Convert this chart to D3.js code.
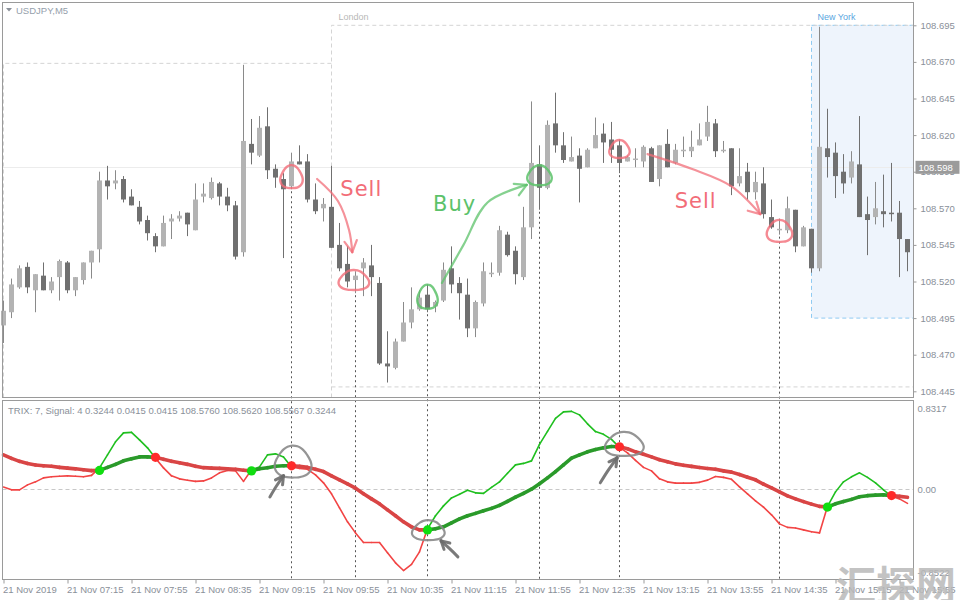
<!DOCTYPE html>
<html><head><meta charset="utf-8">
<script src="https://cdn.jsdelivr.net/npm/d3@7"></script>
<style>body{margin:0;background:#fff}svg{display:block}</style>
</head><body>
<svg id="c" width="960" height="600"></svg>
<script>
// ---------- DATA ----------
const open=[108.490,108.499,108.516,108.530,108.514,108.524,108.514,108.523,108.533,108.514,
108.521,108.533,108.542,108.589,108.587,108.590,108.578,108.571,108.562,108.551,
108.544,108.561,108.563,108.567,108.555,108.578,108.577,108.587,108.578,108.572,
108.540,108.614,108.606,108.626,108.597,108.590,108.585,108.602,108.602,108.576,
108.570,108.571,108.545,108.532,108.521,108.529,108.531,108.519,108.464,108.461,
108.479,108.492,108.501,108.511,108.503,108.507,108.529,108.519,108.511,108.488,
108.505,108.525,108.526,108.552,108.541,108.523,108.557,108.600,108.584,108.628,
108.613,108.602,108.606,108.598,108.611,108.621,108.617,108.613,108.602,108.603,
108.602,108.611,108.590,108.614,108.601,108.609,108.609,108.613,108.619,108.628,
108.609,108.611,108.587,108.595,108.581,108.587,108.564,108.555,108.555,108.569,
108.544,108.556,108.529,108.611,108.608,108.595,108.591,108.600,108.566,108.564,
108.568,108.567,108.567,108.549];
const high=[108.507,108.522,108.531,108.533,108.525,108.533,108.523,108.535,108.534,108.523,
108.533,108.541,108.595,108.599,108.596,108.592,108.583,108.575,108.565,108.553,
108.565,108.566,108.568,108.567,108.587,108.587,108.591,108.588,108.584,108.575,
108.668,108.631,108.633,108.639,108.600,108.594,108.608,108.613,108.607,108.587,
108.577,108.599,108.560,108.544,108.527,108.536,108.545,108.523,108.486,108.481,
108.506,108.516,108.514,108.518,108.507,108.533,108.544,108.523,108.522,108.507,
108.533,108.533,108.558,108.554,108.544,108.571,108.643,108.613,108.630,108.649,
108.622,108.619,108.611,108.611,108.632,108.628,108.629,108.617,108.606,108.611,
108.613,108.612,108.613,108.624,108.614,108.619,108.623,108.628,108.640,108.631,
108.616,108.611,108.611,108.601,108.595,108.598,108.576,108.563,108.578,108.569,
108.558,108.556,108.694,108.638,108.615,108.607,108.609,108.633,108.578,108.588,
108.593,108.601,108.575,108.549];
const low=[108.478,108.495,108.515,108.512,108.499,108.514,108.512,108.507,108.512,108.510,
108.518,108.522,108.533,108.576,108.583,108.574,108.572,108.559,108.548,108.540,
108.544,108.549,108.561,108.551,108.555,108.574,108.576,108.572,108.568,108.535,
108.537,108.600,108.605,108.590,108.584,108.536,108.583,108.600,108.574,108.566,
108.561,108.543,108.527,108.516,108.512,108.510,108.510,108.463,108.451,108.460,
108.479,108.488,108.500,108.499,108.499,108.506,108.512,108.494,108.482,108.482,
108.503,108.523,108.524,108.537,108.518,108.521,108.549,108.569,108.583,108.608,
108.601,108.602,108.574,108.598,108.611,108.601,108.601,108.594,108.602,108.598,
108.598,108.588,108.585,108.598,108.600,108.605,108.605,108.613,108.616,108.605,
108.608,108.579,108.585,108.576,108.576,108.563,108.556,108.552,108.553,108.540,
108.544,108.526,108.527,108.591,108.577,108.580,108.587,108.564,108.538,108.559,
108.557,108.561,108.523,108.527];
const close=[108.500,108.518,108.529,108.516,108.525,108.514,108.520,108.534,108.514,108.523,
108.533,108.541,108.589,108.585,108.589,108.576,108.572,108.561,108.553,108.544,
108.560,108.563,108.565,108.559,108.576,108.580,108.588,108.578,108.572,108.537,
108.616,108.608,108.625,108.596,108.591,108.583,108.602,108.600,108.576,108.568,
108.573,108.543,108.529,108.520,108.524,108.533,108.523,108.464,108.462,108.479,
108.492,108.501,108.509,108.501,108.506,108.528,108.518,108.512,108.488,108.506,
108.527,108.526,108.555,108.538,108.525,108.557,108.601,108.584,108.627,108.613,
108.603,108.605,108.597,108.610,108.620,108.615,108.610,108.601,108.605,108.604,
108.612,108.588,108.613,108.598,108.610,108.610,108.612,108.617,108.629,108.609,
108.610,108.585,108.592,108.581,108.588,108.566,108.557,108.556,108.570,108.544,
108.557,108.529,108.612,108.605,108.592,108.587,108.602,108.564,108.562,108.570,
108.566,108.566,108.549,108.540];
const trix=[0.021,-0.007,-0.007,0.044,0.075,0.116,0.127,0.132,0.137,0.132,
0.127,0.142,0.219,0.353,0.487,0.579,0.584,0.507,0.425,0.317,
0.219,0.137,0.106,0.091,0.080,0.085,0.116,0.168,0.193,0.188,
0.080,0.199,0.229,0.353,0.363,0.332,0.229,0.214,0.204,0.147,
0.065,-0.048,-0.192,-0.336,-0.450,-0.549,-0.549,-0.549,-0.655,-0.758,
-0.837,-0.774,-0.645,-0.408,-0.274,-0.172,-0.090,-0.053,-0.012,-0.038,
-0.043,0.019,0.075,0.163,0.250,0.265,0.291,0.461,0.595,0.728,
0.795,0.800,0.764,0.672,0.592,0.564,0.512,0.430,0.373,0.296,
0.224,0.188,0.106,0.075,0.062,0.062,0.062,0.070,0.093,0.130,
0.121,0.101,0.024,-0.048,-0.120,-0.185,-0.264,-0.357,-0.393,-0.400,
-0.419,-0.439,-0.450,-0.177,-0.028,0.075,0.127,0.168,0.121,0.065,
-0.007,-0.074,-0.100,-0.146];
const signal=[0.353,0.317,0.286,0.265,0.248,0.240,0.235,0.224,0.216,0.209,
0.199,0.191,0.193,0.224,0.255,0.291,0.312,0.332,0.332,0.327,
0.307,0.286,0.271,0.255,0.235,0.221,0.216,0.214,0.209,0.204,
0.195,0.188,0.209,0.221,0.235,0.240,0.240,0.235,0.224,0.204,
0.181,0.137,0.096,0.055,0.010,-0.048,-0.100,-0.151,-0.213,-0.274,
-0.336,-0.388,-0.419,-0.419,-0.408,-0.388,-0.347,-0.306,-0.274,-0.249,
-0.223,-0.198,-0.167,-0.126,-0.082,-0.043,0.000,0.055,0.116,0.180,
0.250,0.319,0.353,0.384,0.408,0.425,0.438,0.436,0.415,0.384,
0.359,0.332,0.303,0.281,0.260,0.245,0.234,0.223,0.213,0.204,
0.188,0.175,0.150,0.123,0.096,0.051,0.013,-0.028,-0.069,-0.100,
-0.128,-0.154,-0.177,-0.184,-0.151,-0.128,-0.105,-0.079,-0.067,-0.061,
-0.059,-0.066,-0.074,-0.084];
const timeLabels=["21 Nov 2019","21 Nov 07:15","21 Nov 07:55","21 Nov 08:35","21 Nov 09:15","21 Nov 09:55","21 Nov 10:35","21 Nov 11:15","21 Nov 11:55","21 Nov 12:35","21 Nov 13:15","21 Nov 13:55","21 Nov 14:35","21 Nov 15:15","21 Nov 15:55"];
const priceTicks=[108.695,108.670,108.645,108.620,108.595,108.570,108.545,108.520,108.495,108.470,108.445];
const indTicks=[0.8317,0,-0.8522];
const indTickLabels=["0.8317","0.00","-0.8522"];
const bidPrice=108.598;
const signalBars=[36,44,53,67,77,97];
const sessions=[{name:"",start:0,hi:108.669,lo:null},{name:"London",start:41,hi:108.695,lo:108.448},{name:"New York",start:101,hi:108.695,lo:108.495}];
const title="USDJPY,M5";
const indTitle="TRIX: 7, Signal: 4 0.3244 0.0415 0.0415 108.5760 108.5620 108.5567 0.3244";

// ---------- SCALES ----------
const svg=d3.select("#c");
const L=2.5,R=913.5,T1=2.5,B1=397.5,T2=400.5,B2=579.5;
const x=d3.scaleLinear().domain([0,113]).range([3.5,907.5]);
const yP=d3.scaleLinear().domain([108.445,108.695]).range([391.3,25.3]);
const yI=d3.scaleLinear().domain([-0.8522,0.8317]).range([572,408.3]);
const txt="#8a9099", font="'Liberation Sans',Arial,sans-serif";

// session boxes
const asia=sessions[0], lon=sessions[1], ny=sessions[2];
svg.append("rect").attr("x",x(ny.start)).attr("y",yP(ny.hi)).attr("width",R-x(ny.start)).attr("height",yP(ny.lo)-yP(ny.hi))
  .attr("fill","#eef4fc").attr("stroke","#8fcaf2").attr("stroke-dasharray","4,3");
svg.append("path").attr("d",`M${x(lon.start)},${B1}V${yP(lon.hi)}H${R}M${x(lon.start)},${yP(lon.lo)}H${R}`)
  .attr("fill","none").attr("stroke","#d4d4d4").attr("stroke-dasharray","4,3");
svg.append("path").attr("d",`M${x(asia.start)},${B1}V${yP(asia.hi)}H${x(lon.start)}`)
  .attr("fill","none").attr("stroke","#d4d4d4").attr("stroke-dasharray","4,3");
svg.append("text").attr("x",x(lon.start)+7).attr("y",20).text(lon.name).attr("fill","#b8b8b8").attr("font-size",9).attr("font-family",font);
svg.append("text").attr("x",x(ny.start)+6).attr("y",20).text(ny.name).attr("fill","#5aa6e0").attr("font-size",9).attr("font-family",font);

// bid line
svg.append("line").attr("x1",L).attr("x2",R).attr("y1",Math.round(yP(bidPrice))+0.5).attr("y2",Math.round(yP(bidPrice))+0.5).attr("stroke","#ececec");

// dotted signal lines
signalBars.forEach(i=>{
  svg.append("line").attr("x1",x(i)).attr("x2",x(i)).attr("y1",yP(low[i])+2).attr("y2",B2)
    .attr("stroke","#555").attr("stroke-dasharray","2,3");
});

// zero line in indicator
svg.append("line").attr("x1",L).attr("x2",R).attr("y1",Math.round(yI(0))+0.5).attr("y2",Math.round(yI(0))+0.5)
  .attr("stroke","#c8c8c8").attr("stroke-dasharray","4,3");

// candles
const cg=svg.append("g");
d3.range(open.length).forEach(i=>{
  const up=close[i]>=open[i];
  const col=up?"#b3b3b3":"#707070";
  cg.append("line").attr("x1",x(i)).attr("x2",x(i)).attr("y1",yP(high[i])).attr("y2",yP(low[i]))
    .attr("stroke",up?"#8a8a8a":"#707070").attr("stroke-width",1);
  const y0=yP(Math.max(open[i],close[i])), y1=yP(Math.min(open[i],close[i]));
  cg.append("rect").attr("x",x(i)-2.5).attr("y",y0).attr("width",5).attr("height",Math.max(1.5,y1-y0)).attr("fill",col);
});

// ---------- INDICATOR ----------
const state=trix.map((v,i)=>v>signal[i]);
const ig=svg.append("g");
for(let i=0;i<trix.length-1;i++){
  ig.append("line").attr("x1",x(i)).attr("x2",x(i+1)).attr("y1",yI(trix[i])).attr("y2",yI(trix[i+1]))
    .attr("stroke",state[i]?"#1fbf1f":"#f24444").attr("stroke-width",1.6).attr("stroke-linecap","round");
}
for(let i=0;i<signal.length-1;i++){
  ig.append("line").attr("x1",x(i)).attr("x2",x(i+1)).attr("y1",yI(signal[i])).attr("y2",yI(signal[i+1]))
    .attr("stroke",state[i]?"#2a9a2a":"#d94545").attr("stroke-width",3.6).attr("stroke-linecap","round");
}
for(let i=1;i<trix.length;i++){
  if(state[i]!==state[i-1]){
    ig.append("circle").attr("cx",x(i)).attr("cy",yI(signal[i])).attr("r",4.6)
      .attr("fill",state[i]?"#10dd10":"#ff2a2a");
  }
}

// ---------- FRAMES & AXES ----------
svg.append("rect").attr("x",L).attr("y",T1).attr("width",R-L).attr("height",B1-T1).attr("fill","none").attr("stroke","#9a9a9a");
svg.append("rect").attr("x",L).attr("y",T2).attr("width",R-L).attr("height",B2-T2).attr("fill","none").attr("stroke","#9a9a9a");

const pa=svg.append("g").attr("transform",`translate(${R},0)`)
  .call(d3.axisRight(yP).tickValues(priceTicks).tickSize(3).tickPadding(4).tickFormat(d3.format(".3f")));
pa.select(".domain").remove();
pa.selectAll("line").attr("stroke","#9a9a9a");
pa.selectAll("text").attr("fill",txt).attr("font-size",9.5).attr("font-family",font);

const ia=svg.append("g").attr("transform",`translate(${R},0)`)
  .call(d3.axisRight(yI).tickValues(indTicks).tickSize(0).tickPadding(4).tickFormat((d,i)=>indTickLabels[i]));
ia.select(".domain").remove();
ia.selectAll("text").attr("fill",txt).attr("font-size",9.5).attr("font-family",font);

const ta=svg.append("g").attr("transform",`translate(0,${B2})`)
  .call(d3.axisBottom(x).tickValues(d3.range(0,113,8)).tickSize(4).tickPadding(3).tickFormat((d,i)=>timeLabels[i]));
ta.select(".domain").remove();
ta.selectAll("line").attr("stroke","#9a9a9a");
ta.selectAll("text").attr("text-anchor","start").attr("dx",-1).attr("fill",txt).attr("font-size",9.5).attr("font-family",font);

// bid price label
const by=yP(bidPrice);
svg.append("rect").attr("x",R+2).attr("y",by-6.5).attr("width",44).attr("height",13).attr("fill","#9b9b9b");
svg.append("text").attr("x",R+5).attr("y",by+3.5).text(d3.format(".3f")(bidPrice)).attr("fill","#fff").attr("font-size",9.5).attr("font-family",font);

// titles
svg.append("path").attr("d","M6,8 h6 l-3,3.5z").attr("fill","#8a9099");
svg.append("text").attr("x",16).attr("y",14).text(title).attr("fill","#95a0ac").attr("font-size",9.5).attr("font-family",font);
svg.append("text").attr("x",8).attr("y",414).text(indTitle).attr("fill","#8a9099").attr("font-size",9.5).attr("font-family",font);

// ---------- ANNOTATIONS ----------
const pink="#f26d78", green="#5cc26a", gray="#6b6b6b";
const an=svg.append("g").attr("fill","none").attr("stroke-linecap","round").attr("stroke-linejoin","round");
function loop(cx,cy,rx,ry,col,w,op){
  const pts=d3.range(0,1.08,0.04).map(t=>{const a=-0.6+t*2*Math.PI*1.05;const k=1+0.08*Math.sin(3*a);return [cx+rx*k*Math.cos(a),cy+ry*k*Math.sin(a)];});
  an.append("path").attr("d",d3.line().curve(d3.curveCatmullRom)(pts)).attr("stroke",col).attr("stroke-width",w).attr("opacity",op);
}
function arrow(pts,col,w,op,head){
  an.append("path").attr("d",d3.line().curve(d3.curveCatmullRom)(pts)).attr("stroke",col).attr("stroke-width",w).attr("opacity",op);
  const e=pts[pts.length-1], p=pts[pts.length-2];
  const a=Math.atan2(e[1]-p[1],e[0]-p[0]);
  [0.5,-0.5].forEach(d=>{an.append("line").attr("x1",e[0]).attr("y1",e[1])
    .attr("x2",e[0]-head*Math.cos(a+d)).attr("y2",e[1]-head*Math.sin(a+d)).attr("stroke",col).attr("stroke-width",w).attr("opacity",op);});
}
const P=(b,p)=>[x(b),yP(p)], I=(b,v)=>[x(b),yI(v)];
// price circles
loop(...P(36,108.591),11,11.5,pink,2.4,0.8);
loop(...P(43.8,108.5205),15,10,pink,2.4,0.8);
loop(...P(53,108.509),10,12,green,2.4,0.85);
loop(...P(67,108.592),12,10,green,2.4,0.85);
loop(...P(77,108.610),10,9,pink,2.4,0.8);
loop(...P(97,108.554),12.5,11,pink,2.4,0.8);
// price arrows
arrow([P(39.2,108.590),P(41.8,108.575),P(43.2,108.555),P(43.6,108.540)],pink,2.2,0.75,13);
arrow([P(54.8,108.519),P(57.5,108.545),P(60.5,108.574),P(65.4,108.586)],green,2.2,0.75,13);
arrow([P(80.5,108.607),P(86,108.597),P(91,108.585),P(94.6,108.566)],pink,2.2,0.75,13);
// labels
const hf="'Comic Sans MS','DejaVu Sans',sans-serif";
[["Sell",P(42.1,108.5784),pink],["Buy",P(53.7,108.5682),green],["Sell",P(83.9,108.5702),pink]].forEach(d=>{
  svg.append("text").attr("x",d[1][0]).attr("y",d[1][1]).text(d[0]).attr("fill",d[2]).attr("font-size",21).attr("font-family",hf).attr("letter-spacing",1);
});
// indicator circles & arrows
loop(...I(36.2,0.271),18,16,"#8a8a8a",2.2,0.9);
loop(...I(53.1,-0.430),16,10,"#8a8a8a",2.2,0.9);
loop(...I(77.6,0.456),19,12,"#8a8a8a",2.2,0.9);
arrow([I(33.3,-0.080),I(34.1,0.030),I(35.0,0.137)],gray,3,0.9,9);
arrow([I(56.8,-0.697),I(55.8,-0.615),I(54.7,-0.532)],gray,3,0.9,9);
arrow([I(74.6,0.065),I(75.6,0.195),I(76.7,0.322)],gray,3,0.9,9);

// watermark
svg.append("text").attr("x",836).attr("y",600).text("汇探网").attr("fill","#b9b9b9").attr("opacity",0.85)
  .attr("font-size",40).attr("font-weight","bold").attr("font-family","'Noto Sans CJK SC',sans-serif");
</script>
</body></html>
